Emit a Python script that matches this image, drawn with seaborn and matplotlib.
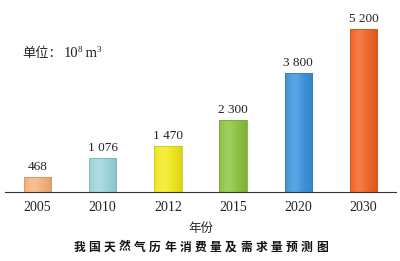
import numpy as np
import pandas as pd
import matplotlib
matplotlib.use('Agg')
import matplotlib.pyplot as plt
import seaborn as sns
from matplotlib.colors import to_rgb

years = ['2005', '2010', '2012', '2015', '2020', '2030']
values = [468, 1076, 1470, 2300, 3800, 5200]
value_labels = ['468', '1 076', '1 470', '2 300', '3 800', '5 200']
colors = ['#F6B47C', '#9DD5DC', '#F3EA1E', '#8CC540', '#3D93DC', '#F26424']
unit_prefix = '单位：'
unit_parts = [('10', False), ('8', True), (' m', False), ('3', True)]
xlabel_text = '年份'
title_text = '我国天然气历年消费量及需求量预测图'

sns.set_theme(style='white')
plt.rcParams['font.family'] = ['Liberation Serif', 'Noto Sans CJK SC', 'DejaVu Sans']

fig = plt.figure(figsize=(4, 2.61), dpi=100)
ax = fig.add_axes([5/400, 1-192/261, 391/400, (192-5)/261])
df = pd.DataFrame({'year': years, 'value': values})
sns.barplot(data=df, x='year', y='value', hue='year', palette=colors,
            legend=False, width=0.42, ax=ax, saturation=1)

ymax = 5200*187/163
for cont, c in zip(ax.containers, colors):
    for p in cont.patches:
        x0, y0 = p.get_x(), p.get_y()
        w, h = p.get_width(), p.get_height()
        base = np.array(to_rgb(c))
        t = np.linspace(0, 1, 60)
        light = np.exp(-((t-0.33)/0.25)**2)*0.16
        dark = (np.abs(t-0.35)/0.65)**2*0.10
        row = base + (1-base)*light[:, None] - base*dark[:, None]
        row = np.clip(row, 0, 1)
        img = ax.imshow(row[None, :, :], extent=[x0, x0+w, y0, y0+h],
                        aspect='auto', zorder=p.get_zorder()-0.1, interpolation='bilinear')
        img.set_clip_path(p)
        p.set_facecolor('none')
        p.set_edgecolor(tuple(base*0.85))
        p.set_linewidth(0.6)

for cont, lab in zip(ax.containers, value_labels):
    ax.bar_label(cont, labels=[lab], padding=3, fontsize=9.5, color='#222222')

ax.set_xlim(-0.5, 5.5)
ax.set_ylim(0, ymax)
ax.set_aspect('auto')
for s in ['top', 'left', 'right']:
    ax.spines[s].set_visible(False)
ax.spines['bottom'].set_color('#333333')
ax.spines['bottom'].set_linewidth(0.8)
ax.set_yticks([])
ax.set_xlabel('')
ax.set_ylabel('')
ax.set_xticks(range(len(years)))
ax.set_xticklabels(years, fontsize=10, color='#222222')
ax.tick_params(axis='x', which='major', length=0, pad=6.5)
ax.set_xticks(np.arange(-0.5, len(years), 1), minor=True)
ax.tick_params(axis='x', which='minor', direction='in', length=3, width=0.8, color='#333333')
ax.patch.set_alpha(0)

# unit label
fig.text(22/400, 1-57/261, unit_prefix, fontsize=9.5, ha='left', va='baseline', color='#222222',
         family=['Noto Sans CJK SC', 'DejaVu Sans'])
xpos = 64
fig.canvas.draw()
renderer = fig.canvas.get_renderer()
for txt, sup in unit_parts:
    t = fig.text(xpos/400, 1-(52 if sup else 57)/261, txt, fontsize=6.5 if sup else 10.5,
                 ha='left', va='baseline', color='#222222')
    bb = t.get_window_extent(renderer=renderer)
    xpos += bb.width + (0.3 if sup else -1.0)

fig.text(200.5/400, 1-228/261, xlabel_text, fontsize=9, ha='center', va='center',
         color='#222222', family=['Noto Sans CJK SC', 'DejaVu Sans'])
pitch = 15.2
x_start = 79
for i, ch in enumerate(title_text):
    fig.text((x_start + i*pitch)/400, 1-247/261, ch, fontsize=8.5, fontweight='bold',
             ha='center', va='center', color='#111111', family=['Noto Sans CJK SC', 'DejaVu Sans'])

fig.savefig('out.png', dpi=100)
